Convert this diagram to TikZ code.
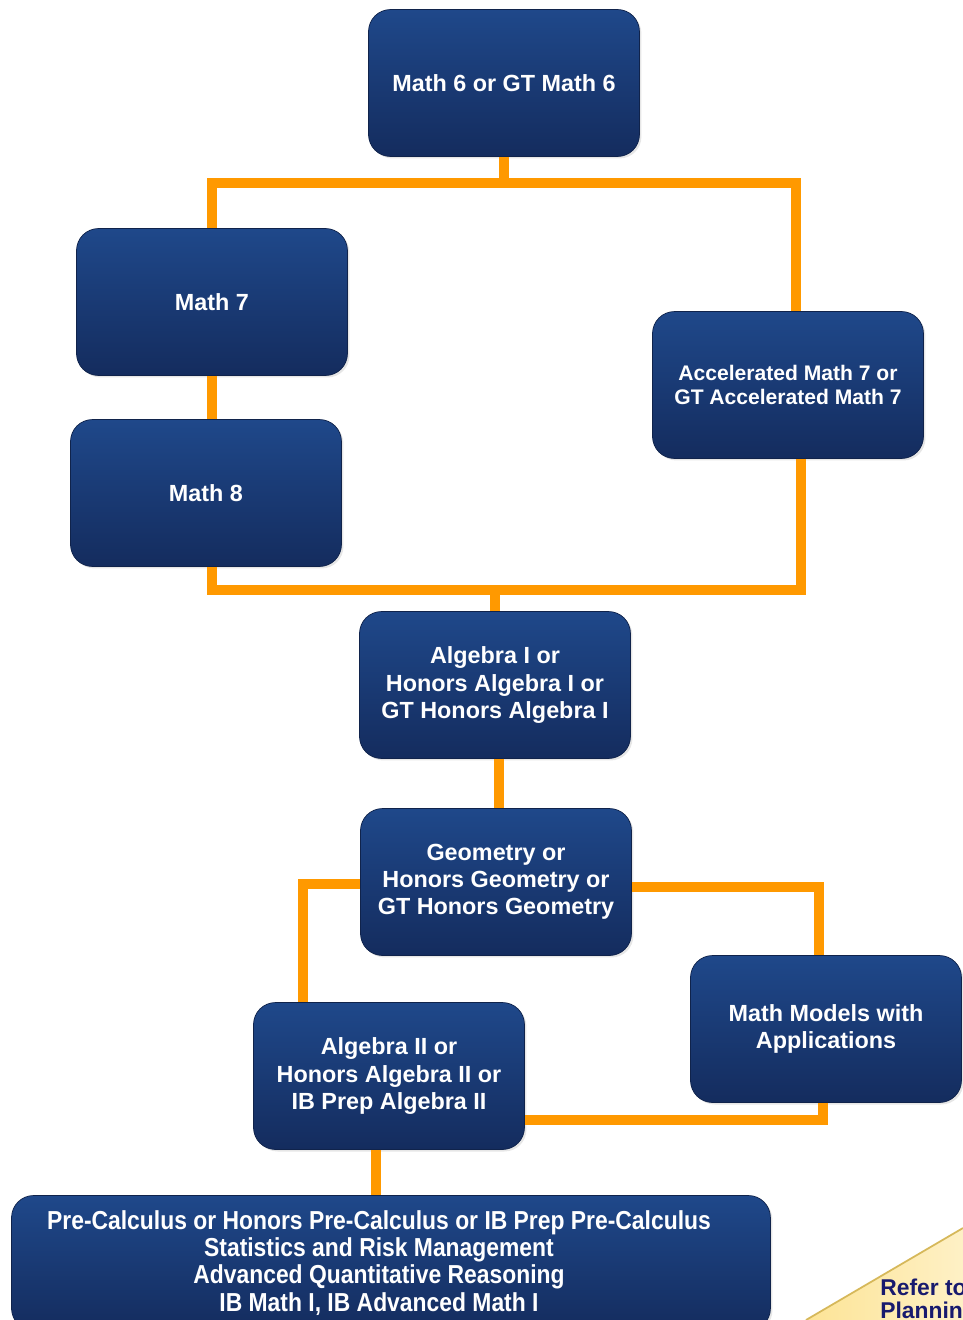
\documentclass[tikz,border=0pt]{standalone}
\usepackage{fontspec}
\setmainfont{Liberation Sans}
\newfontfamily\narrowfont[FakeStretch=0.88]{Liberation Sans}
\usetikzlibrary{shadows}

\definecolor{boxtop}{RGB}{31,72,138}
\definecolor{boxbot}{RGB}{20,44,94}
\definecolor{linkorange}{RGB}{255,153,0}
\definecolor{notefill}{RGB}{253,228,150}
\definecolor{noteedge}{RGB}{214,184,90}
\definecolor{notetext}{RGB}{24,26,110}

\tikzset{
  course/.style={draw=boxbot!80!black, line width=0.4pt, rounded corners=0.44cm,
    top color=boxtop, bottom color=boxbot, text=white, align=center,
    font=\fontsize{13.3}{15.4}\selectfont\bfseries,
    minimum width=5.42cm, minimum height=2.94cm, inner sep=2pt,
    drop shadow={opacity=0.2, shadow xshift=0.04cm, shadow yshift=-0.04cm}},
  link/.style={draw=linkorange, line width=0.2cm}
}

\begin{document}
\begin{tikzpicture}[x=0.02cm, y=-0.02cm]
  \useasboundingbox (0,0) rectangle (963,1320);

  % the note in the corner
  \shade[left color=notefill, right color=notefill!55!white]
    (806,1320) -- (963,1228) -- (963,1320) -- cycle;
  \draw[noteedge, line width=1pt] (806,1320) -- (963,1228);
  \node[anchor=base west, text=notetext, font=\fontsize{13}{15}\selectfont\bfseries,
    inner sep=0pt] (refer) at (880,1295) {Refer to};
  \node[anchor=base west, text=notetext, font=\fontsize{13}{15}\selectfont\bfseries,
    inner sep=0pt] (plan) at (880,1318) {Planning};

  % course boxes
  \node[course] (m6) at (504,83) {Math 6 or GT Math 6};
  \node[course] (m7) at (212,302) {Math 7};
  \node[course] (m8) at (206,493) {Math 8};
  \node[course, font=\fontsize{12}{13.8}\selectfont\bfseries] (acc) at (788,385)
    {Accelerated Math 7 or\\GT Accelerated Math 7};
  \node[course] (alg1) at (495,685) {Algebra I or\\Honors Algebra I or\\GT Honors Algebra I};
  \node[course] (geo) at (496,882) {Geometry or\\Honors Geometry or\\GT Honors Geometry};
  \node[course] (mm) at (826,1029) {Math Models with\\Applications};
  \node[course] (alg2) at (389,1076) {Algebra II or\\Honors Algebra II or\\IB Prep Algebra II};
  \node[course, minimum width=15.18cm, minimum height=2.7cm] (calc) at (391,1263) {};
  \node[text=white, align=center, font=\fontsize{14.8}{15.4}\narrowfont\bfseries]
    (calctext) at (379,1263)
    {Pre-Calculus or Honors Pre-Calculus or IB Prep Pre-Calculus\\
     Statistics and Risk Management\\
     Advanced Quantitative Reasoning\\
     IB Math I, IB Advanced Math I};

  % elbow points
  \coordinate (split) at (504,183);
  \coordinate (join) at (495,590);
  \coordinate (gl) at (303,884);
  \coordinate (gr) at (819,887);
  \coordinate (mb) at (823,1120);

  % orange connectors
  \draw[link] (m6.south) -- (split);
  \draw[link] (split) -| (m7.north);
  \draw[link] (split) -| ([xshift=0.16cm]acc.north);
  \draw[link] (m7.south) -- (m7.south |- m8.north);
  \draw[link] (m8.south -| m7.south) |- (join) -| ([xshift=0.26cm]acc.south);
  \draw[link] (join) -- (alg1.north);
  \draw[link] ([xshift=0.08cm]alg1.south) -- ([xshift=0.08cm]alg1.south |- geo.north);
  \draw[link] (geo.west |- gl) -- (gl) -- (gl |- alg2.north);
  \draw[link] (geo.east |- gr) -- (gr) -- (gr |- mm.north);
  \draw[link] (mb |- mm.south) -- (mb) -- (mb -| alg2.east);
  \draw[link] ([xshift=-0.26cm]alg2.south) -- ([xshift=-0.26cm]alg2.south |- calc.north);
\end{tikzpicture}
\end{document}
